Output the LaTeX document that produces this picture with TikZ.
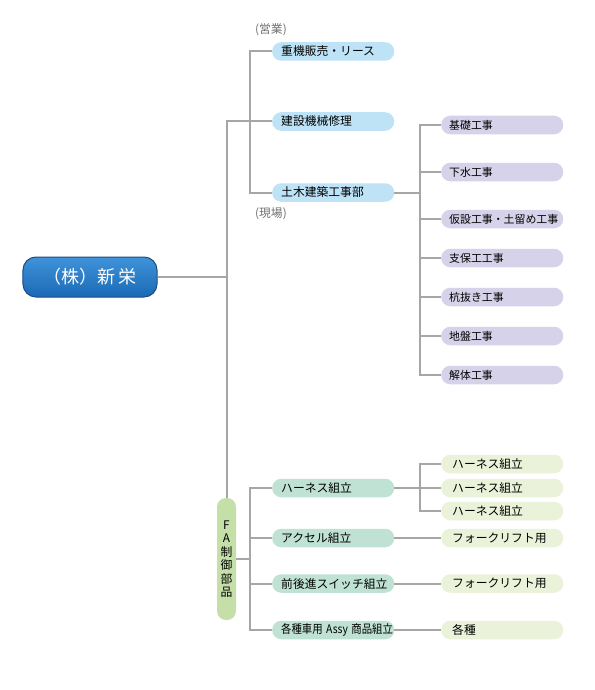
\documentclass[tikz,border=0pt]{standalone}
\usepackage{fontspec}
\setmainfont{Noto Sans CJK JP}
\usetikzlibrary{calc}

\definecolor{rootlight}{HTML}{3F93DA}
\definecolor{rootblue}{HTML}{1B69B5}
\definecolor{rootedge}{HTML}{1D4C82}
\definecolor{salesblue}{HTML}{BEE3F7}
\definecolor{worklilac}{HTML}{D6D2E9}
\definecolor{assymint}{HTML}{BFE2D5}
\definecolor{partcream}{HTML}{EBF2DA}
\definecolor{fagreen}{HTML}{C4DFA7}
\definecolor{linkgray}{HTML}{A6A6A6}
\definecolor{notegray}{HTML}{707070}

\begin{document}
\begin{tikzpicture}[x=1bp, y=-1bp]
	% Define styles
	\tikzset{
		pill/.style={rectangle, rounded corners=9bp, minimum height=18.5bp, inner ysep=0pt, align=left, anchor=west},
		sales/.style={pill, fill=salesblue, text width=104bp, inner xsep=9bp, font=\fontsize{11.8bp}{13bp}\selectfont},
		work/.style={pill, fill=worklilac, text width=106bp, inner xsep=8bp, font=\fontsize{10.9bp}{12bp}\selectfont},
		assy/.style={pill, fill=assymint, text width=104bp, inner xsep=9bp, font=\fontsize{11.8bp}{13bp}\selectfont},
		part/.style={pill, fill=partcream, text width=100bp, inner xsep=11bp, font=\fontsize{11.8bp}{13bp}\selectfont},
		root/.style={rectangle, rounded corners=13bp, minimum width=134bp, minimum height=40bp, draw=rootedge, line width=1bp, top color=rootlight, bottom color=rootblue, text=white, font=\fontsize{18bp}{20bp}\selectfont},
		fabox/.style={rectangle, rounded corners=9bp, fill=fagreen, minimum width=19bp, minimum height=122bp, inner sep=0pt, align=center, font=\fontsize{11.8bp}{13.5bp}\selectfont},
		note/.style={anchor=west, inner sep=0pt, text=notegray, font=\fontsize{11.8bp}{13bp}\selectfont},
		link/.style={draw=linkgray, line width=2bp}
	}
	\fill[white] (0,0) rectangle (595,690);
	\useasboundingbox (0,0) rectangle (595,690);

	% Nodes
	\node[root] (shinei) at (90,277) {（株）新\hspace{4bp}栄\hspace{6bp}};

	\node[note] (eigyo) at (255,30) {(営業)};
	\node[sales] (juki) at (272,51.5) {重機販売・リース};
	\node[sales] (kensetsu) at (272,121.5) {建設機械修理};
	\node[sales] (doboku) at (272,192.5) {土木建築工事部};
	\node[note] (genba) at (255,214) {(現場)};

	\node[work] (kiso) at (441,125) {基礎工事};
	\node[work] (gesui) at (441,172) {下水工事};
	\node[work] (kasetsu) at (441,219) {仮設工事・土留め工事};
	\node[work] (shiho) at (441,258) {支保工工事};
	\node[work] (kuinuki) at (441,297) {杭抜き工事};
	\node[work] (jiban) at (441,336) {地盤工事};
	\node[work] (kaitai) at (441,375) {解体工事};

	\node[fabox] (fa) at (226.5,559) {F\\A\\制\\御\\部\\品};

	\node[assy] (harness) at (272,488) {ハーネス組立};
	\node[assy] (accel) at (272,538) {アクセル組立};
	\node[assy] (zenkoushin) at (272,583.5) {前後進スイッチ組立};
	\node[assy] (kakushu) at (272,630) {\mbox{\scalebox{0.88}[1]{各種車用 Assy 商品組立}}};

	\node[part] (harn1) at (441,464) {ハーネス組立};
	\node[part] (harn2) at (441,488) {ハーネス組立};
	\node[part] (harn3) at (441,511) {ハーネス組立};
	\node[part] (fork1) at (441,538) {フォークリフト用};
	\node[part] (fork2) at (441,583.5) {フォークリフト用};
	\node[part] (shurui) at (441,630) {各種};

	% Links
	\draw[link] (shinei.east) -- (shinei.east -| fa.north);
	\draw[link] (kensetsu.west) -| (fa.north);
	\draw[link] (juki.west) -- ++(-22,0) |- (doboku.west);

	\draw[link] (doboku.east) -- ++(27,0) coordinate (workbus);
	\draw[link] (kiso.west) -- ++(-21,0) |- (kaitai.west);
	\foreach \n in {gesui, kasetsu, shiho, kuinuki, jiban}
		\draw[link] (\n.west) -- (\n.west -| workbus);

	\draw[link] (fa.east) -- ++(14,0) coordinate (fabus);
	\draw[link] (harness.west) -- ++(-22,0) |- (kakushu.west);
	\foreach \n in {accel, zenkoushin}
		\draw[link] (\n.west) -- (\n.west -| fabus);

	\draw[link] (harness.east) -- ++(27,0) coordinate (harnbus);
	\draw[link] (harn1.west) -- ++(-21,0) |- (harn3.west);
	\draw[link] (harn2.west) -- (harn2.west -| harnbus);
	\draw[link] (accel.east) -- (fork1.west);
	\draw[link] (zenkoushin.east) -- (fork2.west);
	\draw[link] (kakushu.east) -- (shurui.west);
\end{tikzpicture}
\end{document}
